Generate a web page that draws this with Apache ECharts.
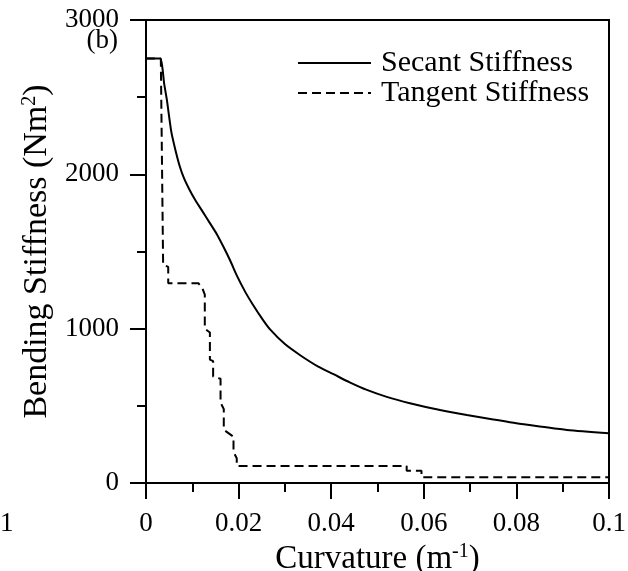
<!DOCTYPE html>
<html>
<head>
<meta charset="utf-8">
<script src="https://cdn.jsdelivr.net/npm/echarts@6/dist/echarts.min.js"></script>
<style>
  html, body { margin: 0; padding: 0; background: #fff; }
  #chart { width: 628px; height: 571px; }
</style>
</head>
<body>
<div id="chart"></div>
<script>
// secant stiffness curve (curvature m^-1, stiffness Nm^2)
const secantCurvature = [0, 0.003, 0.0035, 0.0039, 0.0045, 0.0055, 0.0065, 0.0073, 0.0082, 0.0094, 0.0106,
  0.0122, 0.0138, 0.0153, 0.0167, 0.0182, 0.0196, 0.0214, 0.0232, 0.025, 0.0268, 0.03, 0.0333,
  0.0372, 0.0405, 0.044, 0.0477, 0.052, 0.057, 0.063, 0.0693, 0.075, 0.08, 0.0855, 0.0909, 0.1]
const secantStiffness = [2750, 2750, 2700, 2592, 2484, 2270, 2140, 2051, 1975, 1900, 1835,
  1760, 1684, 1612, 1532, 1440, 1345, 1240, 1150, 1068, 995, 900, 828,
  754, 705, 652, 603, 558, 517, 476, 441, 412, 387, 365, 344, 322]

// tangent stiffness (step-like)
const tangentCurvature = [0, 0.0032, 0.0037, 0.0048, 0.0048, 0.0113, 0.0122, 0.0127, 0.0127, 0.0138, 0.0138,
  0.0145, 0.0145, 0.0161, 0.0161, 0.0168, 0.0168, 0.0189, 0.0189, 0.0196, 0.0196, 0.0563, 0.0563,
  0.0595, 0.0595, 0.1]
const tangentStiffness = [2750, 2750, 1414, 1400, 1295, 1295, 1260, 1220, 1000, 975, 800,
  790, 690, 675, 520, 480, 345, 300, 200, 160, 110, 110, 80,
  80, 37, 37]

const FONT = 'Liberation Serif'

const chart = echarts.init(document.getElementById('chart'))

const nameRich = {
  sup: { fontFamily: FONT, fontSize: 20, color: '#000', verticalAlign: 'top', padding: [0, 0, 14, 0] }
}

const option = {
  backgroundColor: '#fff',
  animation: false,
  textStyle: { fontFamily: FONT, color: '#000' },
  grid: {
    left: 146, right: 19, top: 20, bottom: 88,
    outerBoundsMode: 'none',
    show: true, borderColor: '#000', borderWidth: 2
  },
  legend: {
    data: ['Secant Stiffness', 'Tangent Stiffness'],
    orient: 'vertical',
    left: 297,
    top: 48,
    itemWidth: 73,
    itemHeight: 14,
    itemGap: 0,
    padding: 0,
    selectedMode: false,
    itemStyle: { opacity: 0 },
    textStyle: { fontFamily: FONT, fontSize: 30, color: '#000', lineHeight: 28, padding: [0, 0, 0, 5] }
  },
  xAxis: {
    type: 'value',
    min: 0,
    max: 0.1,
    interval: 0.02,
    name: 'Curvature (m{sup|-1})',
    nameLocation: 'middle',
    nameGap: 50,
    nameTextStyle: { fontFamily: FONT, fontSize: 33, color: '#000', rich: nameRich },
    axisLine: { show: true, lineStyle: { color: '#000', width: 2 } },
    axisTick: { show: true, inside: false, length: 16, lineStyle: { color: '#000', width: 2 } },
    minorTick: { show: true, splitNumber: 2, length: 9, lineStyle: { color: '#000', width: 2 } },
    splitLine: { show: false },
    axisLabel: { fontFamily: FONT, fontSize: 27, color: '#000', margin: 27 }
  },
  yAxis: {
    type: 'value',
    min: 0,
    max: 3000,
    interval: 1000,
    name: 'Bending Stiffness (Nm{sup|2})',
    nameLocation: 'middle',
    nameGap: 83,
    nameTextStyle: { fontFamily: FONT, fontSize: 34, color: '#000', rich: nameRich },
    axisLine: { show: true, lineStyle: { color: '#000', width: 2 } },
    axisTick: { show: true, inside: false, length: 16, lineStyle: { color: '#000', width: 2 } },
    minorTick: { show: true, splitNumber: 2, length: 9, lineStyle: { color: '#000', width: 2 } },
    splitLine: { show: false },
    axisLabel: { fontFamily: FONT, fontSize: 27, color: '#000', margin: 27, formatter: v => String(v) }
  },
  graphic: [
    { type: 'text', right: 628 - 118, top: 27, style: { text: '(b)', font: '27px "Liberation Serif"', fill: '#000' } },
    { type: 'text', left: 0, top: 510, style: { text: '1', font: '27px "Liberation Serif"', fill: '#000' } }
  ],
  series: [
    {
      name: 'Secant Stiffness',
      type: 'line',
      data: secantCurvature.map((x, i) => [x, secantStiffness[i]]),
      symbol: 'none',
      smooth: 0.25,
      itemStyle: { color: '#000' },
      lineStyle: { color: '#000', width: 2, type: 'solid' }
    },
    {
      name: 'Tangent Stiffness',
      type: 'line',
      data: tangentCurvature.map((x, i) => [x, tangentStiffness[i]]),
      symbol: 'none',
      itemStyle: { color: '#000' },
      lineStyle: { color: '#000', width: 2, type: [9, 5] }
    }
  ]
}

chart.setOption(option)
</script>
</body>
</html>
